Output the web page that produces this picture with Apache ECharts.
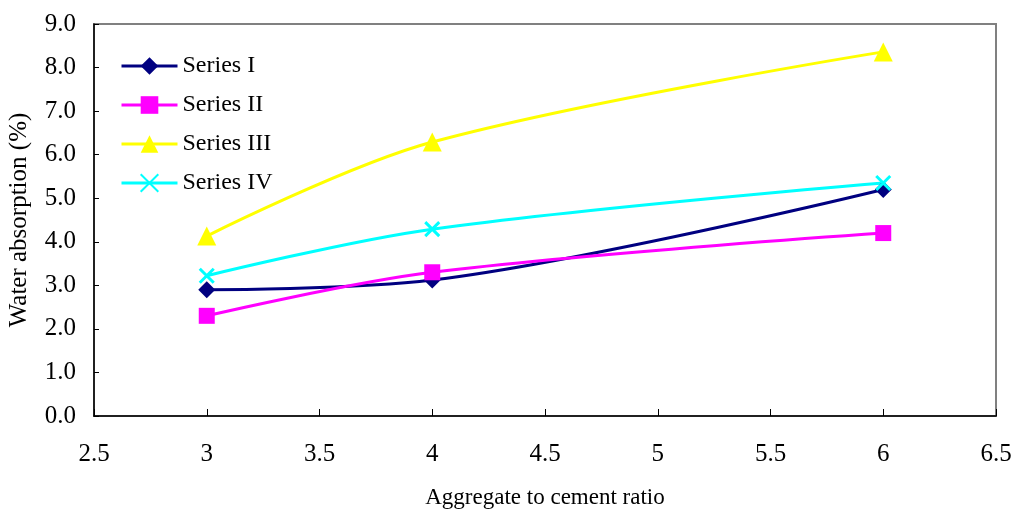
<!DOCTYPE html>
<html><head><meta charset="utf-8">
<script src="https://cdn.jsdelivr.net/npm/echarts@6/dist/echarts.min.js"></script>
<style>html,body{margin:0;padding:0;background:#fff}#c{width:1014px;height:510px}</style>
</head><body><div id="c"></div>
<script>
const xValues = [3, 4, 6];
const seriesNames = ['Series I', 'Series II', 'Series III', 'Series IV'];
const seriesI = [2.9, 3.12, 5.2];
const seriesII = [2.3, 3.3, 4.2];
const seriesIII = [4.13, 6.29, 8.36];
const seriesIV = [3.22, 4.29, 5.35];
const colors = ['#000080', '#FF00FF', '#FFFF00', '#00FFFF'];
const symbols = ['diamond', 'rect', 'triangle', 'path://M0,0 L2,2 M2,0 L0,2'];
const allValues = [seriesI, seriesII, seriesIII, seriesIV];
const FONT = "'Liberation Serif', 'Times New Roman', serif";

const chart = echarts.init(document.getElementById('c'));
chart.setOption({
  animation: false,
  backgroundColor: '#fff',
  textStyle: {fontFamily: FONT},
  grid: {left: 94, right: 18, top: 24, bottom: 94, show: true, borderColor: '#808080', borderWidth: 2,
         containLabel: false, outerBoundsMode: 'none'},
  legend: {
    left: 115, top: 49, orient: 'vertical', itemGap: 15, itemWidth: 56, itemHeight: 22,
    textStyle: {fontFamily: FONT, fontSize: 24, color: '#000'},
    lineStyle: {width: 3},
    data: seriesNames
  },
  xAxis: {
    type: 'value', min: 2.5, max: 6.5, interval: 0.5,
    axisLine: {onZero: false, lineStyle: {color: '#000', width: 1.5}},
    axisTick: {inside: true, length: 7, lineStyle: {color: '#000'}},
    axisLabel: {fontFamily: FONT, fontSize: 25, color: '#000', margin: 26},
    splitLine: {show: false},
    name: 'Aggregate to cement ratio', nameLocation: 'middle', nameGap: 70,
    nameTextStyle: {fontFamily: FONT, fontSize: 23, color: '#000'}
  },
  yAxis: {
    type: 'value', min: 0, max: 9, interval: 1,
    axisLine: {show: true, lineStyle: {color: '#000', width: 1.5}},
    axisTick: {show: true, inside: true, length: 5, lineStyle: {color: '#000'}},
    axisLabel: {fontFamily: FONT, fontSize: 25, color: '#000', margin: 18, formatter: v => v.toFixed(1)},
    splitLine: {show: false},
    name: 'Water absorption (%)', nameLocation: 'middle', nameGap: 62,
    nameTextStyle: {fontFamily: FONT, fontSize: 25, color: '#000'}
  },
  series: seriesNames.map((n, i) => ({
    name: n, type: 'line', smooth: 0.35,
    data: xValues.map((x, j) => [x, allValues[i][j]]),
    symbol: symbols[i],
    symbolSize: i === 2 ? 19 : (i === 3 ? 14 : (i === 0 ? 17 : 16)),
    lineStyle: {color: colors[i], width: 3},
    itemStyle: i === 3 ? {color: colors[i], borderColor: colors[i], borderWidth: 3} : {color: colors[i], borderWidth: 0},
    showAllSymbol: true
  }))
});
</script></body></html>
